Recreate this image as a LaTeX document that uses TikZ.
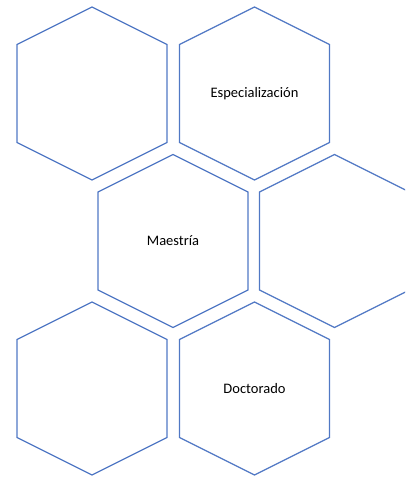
\documentclass[tikz,border=0pt]{standalone}
\usepackage{fontspec}
\setmainfont{Carlito}
\usetikzlibrary{positioning}
\definecolor{hexblue}{RGB}{80,120,196}
\tikzset{
  hexline/.style={draw=hexblue,line width=1.2pt,line join=miter},
  hexlab/.style={font=\fontsize{14.5}{17}\selectfont,inner sep=0pt},
  every picture/.style={x=1pt,y=-1pt}
}

\begin{document}
\begin{tikzpicture}
  \useasboundingbox (0,0) rectangle (405,478);
  \clip (0,0) rectangle (405,478);
  % honeycomb cells: centre x / centre y / name
  \foreach \cx/\cy/\nm in {92/93.5/c1, 254.5/93.5/c2, 173/241/c3, 334.5/241/c4, 92/388.5/c5, 254.5/388.5/c6}{
    \coordinate (\nm) at (\cx,\cy);
    \draw[hexline,shift={(\nm)}] (0,-86.5) -- (75,-49) -- (75,49) -- (0,86.5) -- (-75,49) -- (-75,-49) -- cycle;
  }
  \node[hexlab] (esp) at (c2) {Especialización};
  \node[hexlab] (mae) at (c3) {Maestría};
  \node[hexlab] (doc) at (c6) {Doctorado};
\end{tikzpicture}
\end{document}
